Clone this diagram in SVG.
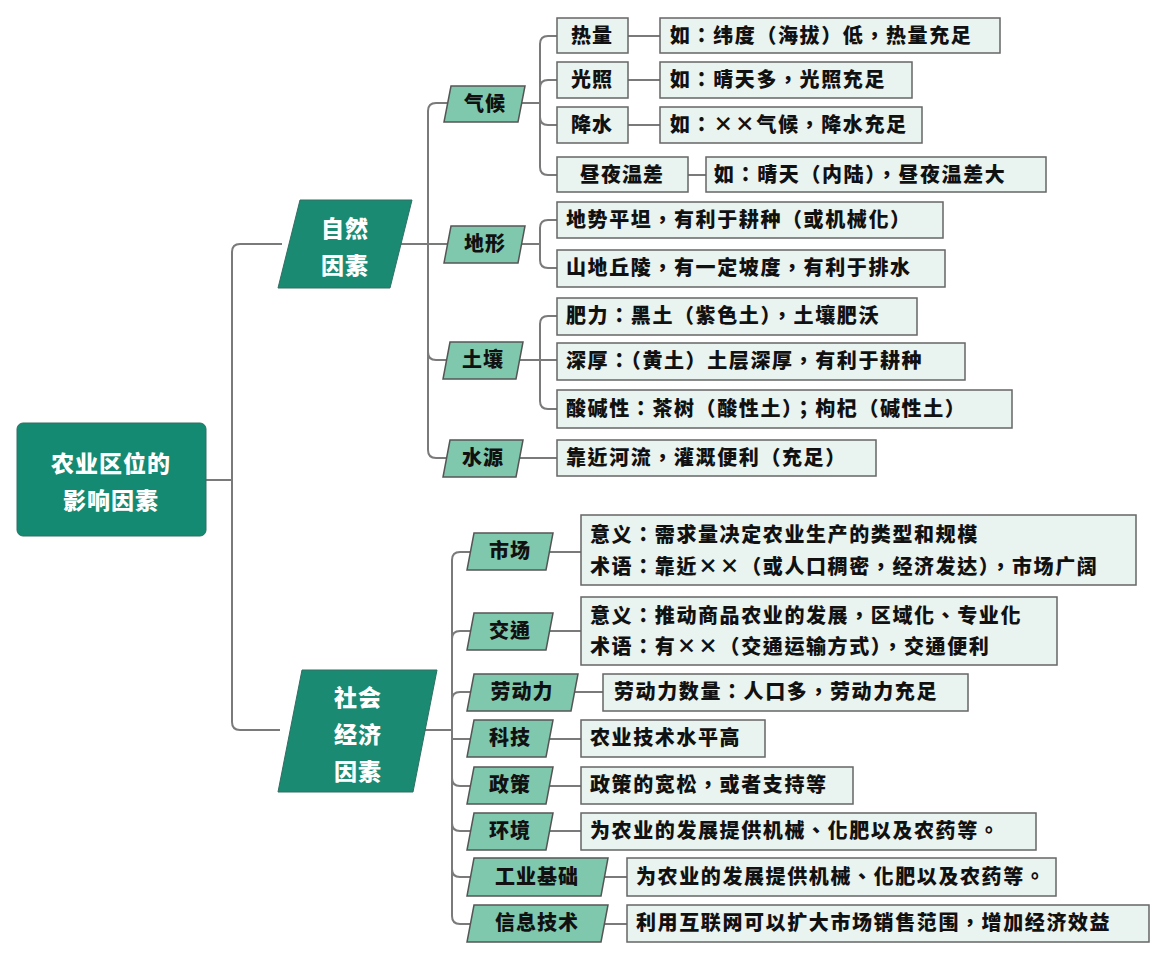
<svg xmlns="http://www.w3.org/2000/svg" width="1165" height="960" viewBox="0 0 1165 960">
<style>
text{font-family:"Noto Sans CJK TC","Noto Sans CJK SC",sans-serif;font-weight:900;}
.c{fill:none;stroke:#7a7a7a;stroke-width:2}
.m{fill:#1a8a73;stroke:#2f6f60;stroke-width:1}
.s{fill:#7fc8ad;stroke:#555;stroke-width:1.5}
.l{fill:#e9f3ef;stroke:#666;stroke-width:1.5}
.w{fill:#fff;font-size:23px;text-anchor:middle;letter-spacing:1px}
.t{fill:#111;font-size:20px;letter-spacing:1.6px}
.tm{fill:#111;font-size:20px;text-anchor:middle;letter-spacing:1px}
</style>
<rect width="1165" height="960" fill="#fff"/>
<g id="connectors">
<path class="c" d="M206,480 H232 M232,480 V252 Q232,244 240,244 H282 M232,480 V722 Q232,730 240,730 H280"/>
<path class="c" d="M400,244 H428 M428,244 V111 Q428,103 436,103 H447 M428,244 H447 M428,244 V352 Q428,360 436,360 H447 M428,244 V450 Q428,458 436,458 H447"/>
<path class="c" d="M520,103 H540 M540,103 V44 Q540,36 548,36 H557 M540,103 V88 Q540,80 548,80 H557 M540,103 V117 Q540,125 548,125 H557 M540,103 V167 Q540,175 548,175 H557"/>
<path class="c" d="M628,36 H660 M628,80 H660 M628,125 H660 M688,175 H706"/>
<path class="c" d="M520,244 H540 M540,244 V228 Q540,220 548,220 H557 M540,244 V260 Q540,268 548,268 H557"/>
<path class="c" d="M520,360 H540 M540,360 V324 Q540,316 548,316 H557 M540,360 H557 M540,360 V401 Q540,409 548,409 H557"/>
<path class="c" d="M520,458 H557"/>
<path class="c" d="M420,730 H452 M452,730 V560 Q452,552 460,552 H470 M452,730 V639 Q452,631 460,631 H470 M452,730 V700 Q452,692 460,692 H470 M452,730 V739 Q452,739 460,739 H470 M452,730 V778 Q452,786 460,786 H470 M452,730 V823 Q452,831 460,831 H470 M452,730 V869 Q452,877 460,877 H470 M452,730 V916 Q452,924 460,924 H470"/>
<path class="c" d="M550,552 H581 M550,631 H581 M575,692 H603 M550,739 H581 M550,786 H581 M550,831 H581 M605,877 H627 M605,924 H627"/>
</g>
<g id="root"><rect x="17" y="423" width="189" height="113" rx="6" fill="#148a72" stroke="#2f6f60"/><text class="w" x="111" y="472">农业区位的</text><text class="w" x="111" y="509">影响因素</text></g>
<g id="n-ziran"><polygon class="m" points="300,200 412,200 390,288 278,288"/><text class="w" x="345" y="237">自然</text><text class="w" x="345" y="274">因素</text></g>
<g id="n-shehui"><polygon class="m" points="302,670 437,670 413,792 278,792"/><text class="w" x="358" y="706">社会</text><text class="w" x="358" y="743">经济</text><text class="w" x="358" y="780">因素</text></g>
<g id="n-qihou"><polygon class="s" points="451,86 525,86 518,122 444,122"/><text class="tm" x="485" y="111">气候</text></g>
<g id="n-dixing"><polygon class="s" points="451,226 525,226 518,263 444,263"/><text class="tm" x="485" y="251">地形</text></g>
<g id="n-turang"><polygon class="s" points="450,342 523,342 516,379 443,379"/><text class="tm" x="483" y="367">土壤</text></g>
<g id="n-shuiyuan"><polygon class="s" points="450,440 523,440 516,477 443,477"/><text class="tm" x="483" y="465">水源</text></g>
<g id="n-reliang"><rect class="l" x="557" y="18" width="71" height="35"/><text class="tm" x="592" y="43">热量</text></g>
<g id="n-guangzhao"><rect class="l" x="557" y="62" width="71" height="36"/><text class="tm" x="592" y="87">光照</text></g>
<g id="n-jiangshui"><rect class="l" x="557" y="107" width="71" height="36"/><text class="tm" x="592" y="132">降水</text></g>
<g id="n-wencha"><rect class="l" x="557" y="157" width="131" height="35"/><text class="tm" x="622" y="182">昼夜温差</text></g>
<g id="e1"><rect class="l" x="660" y="18" width="340" height="35"/><text class="t" x="670" y="43">如：纬度（海拔）低，热量充足</text></g>
<g id="e2"><rect class="l" x="660" y="62" width="252" height="36"/><text class="t" x="670" y="87">如：晴天多，光照充足</text></g>
<g id="e3"><rect class="l" x="660" y="107" width="262" height="36"/><text class="t" x="670" y="132">如：××气候，降水充足</text></g>
<g id="e4"><rect class="l" x="706" y="157" width="340" height="35"/><text class="t" x="714" y="182">如：晴天（内陆），昼夜温差大</text></g>
<g id="d1"><rect class="l" x="557" y="202" width="386" height="36"/><text class="t" x="566" y="227">地势平坦，有利于耕种（或机械化）</text></g>
<g id="d2"><rect class="l" x="557" y="250" width="388" height="37"/><text class="t" x="566" y="275">山地丘陵，有一定坡度，有利于排水</text></g>
<g id="s1"><rect class="l" x="557" y="298" width="360" height="37"/><text class="t" x="566" y="323">肥力：黑土（紫色土），土壤肥沃</text></g>
<g id="s2"><rect class="l" x="557" y="343" width="408" height="37"/><text class="t" x="566" y="368">深厚：（黄土）土层深厚，有利于耕种</text></g>
<g id="s3"><rect class="l" x="557" y="390" width="455" height="38"/><text class="t" x="566" y="416">酸碱性：茶树（酸性土）；枸杞（碱性土）</text></g>
<g id="w1"><rect class="l" x="557" y="440" width="319" height="36"/><text class="t" x="566" y="465">靠近河流，灌溉便利（充足）</text></g>
<g id="n-shichang"><polygon class="s" points="474,533 553,533 546,570 467,570"/><text class="tm" x="510" y="558">市场</text></g>
<g id="n-jiaotong"><polygon class="s" points="474,613 553,613 546,650 467,650"/><text class="tm" x="510" y="638">交通</text></g>
<g id="n-laodongli"><polygon class="s" points="474,674 578,674 571,711 467,711"/><text class="tm" x="522" y="699">劳动力</text></g>
<g id="n-keji"><polygon class="s" points="474,720 553,720 546,757 467,757"/><text class="tm" x="510" y="745">科技</text></g>
<g id="n-zhengce"><polygon class="s" points="474,767 553,767 546,804 467,804"/><text class="tm" x="510" y="792">政策</text></g>
<g id="n-huanjing"><polygon class="s" points="474,813 553,813 546,850 467,850"/><text class="tm" x="510" y="838">环境</text></g>
<g id="n-gongye"><polygon class="s" points="474,858 608,858 601,896 467,896"/><text class="tm" x="537" y="884">工业基础</text></g>
<g id="n-xinxi"><polygon class="s" points="474,905 608,905 601,942 467,942"/><text class="tm" x="537" y="930">信息技术</text></g>
<g id="m1"><rect class="l" x="581" y="515" width="555" height="70"/><text class="t" x="590" y="542">意义：需求量决定农业生产的类型和规模</text><text class="t" x="590" y="574">术语：靠近××（或人口稠密，经济发达），市场广阔</text></g>
<g id="m2"><rect class="l" x="581" y="597" width="476" height="68"/><text class="t" x="590" y="623">意义：推动商品农业的发展，区域化、专业化</text><text class="t" x="590" y="654">术语：有××（交通运输方式），交通便利</text></g>
<g id="m3"><rect class="l" x="603" y="674" width="365" height="37"/><text class="t" x="614" y="699">劳动力数量：人口多，劳动力充足</text></g>
<g id="m4"><rect class="l" x="581" y="720" width="184" height="37"/><text class="t" x="590" y="745">农业技术水平高</text></g>
<g id="m5"><rect class="l" x="581" y="767" width="272" height="37"/><text class="t" x="590" y="792">政策的宽松，或者支持等</text></g>
<g id="m6"><rect class="l" x="581" y="813" width="455" height="37"/><text class="t" x="590" y="838">为农业的发展提供机械、化肥以及农药等。</text></g>
<g id="m7"><rect class="l" x="627" y="858" width="429" height="38"/><text class="t" x="636" y="884">为农业的发展提供机械、化肥以及农药等。</text></g>
<g id="m8"><rect class="l" x="627" y="905" width="522" height="37"/><text class="t" x="636" y="930">利用互联网可以扩大市场销售范围，增加经济效益</text></g>
</svg>
